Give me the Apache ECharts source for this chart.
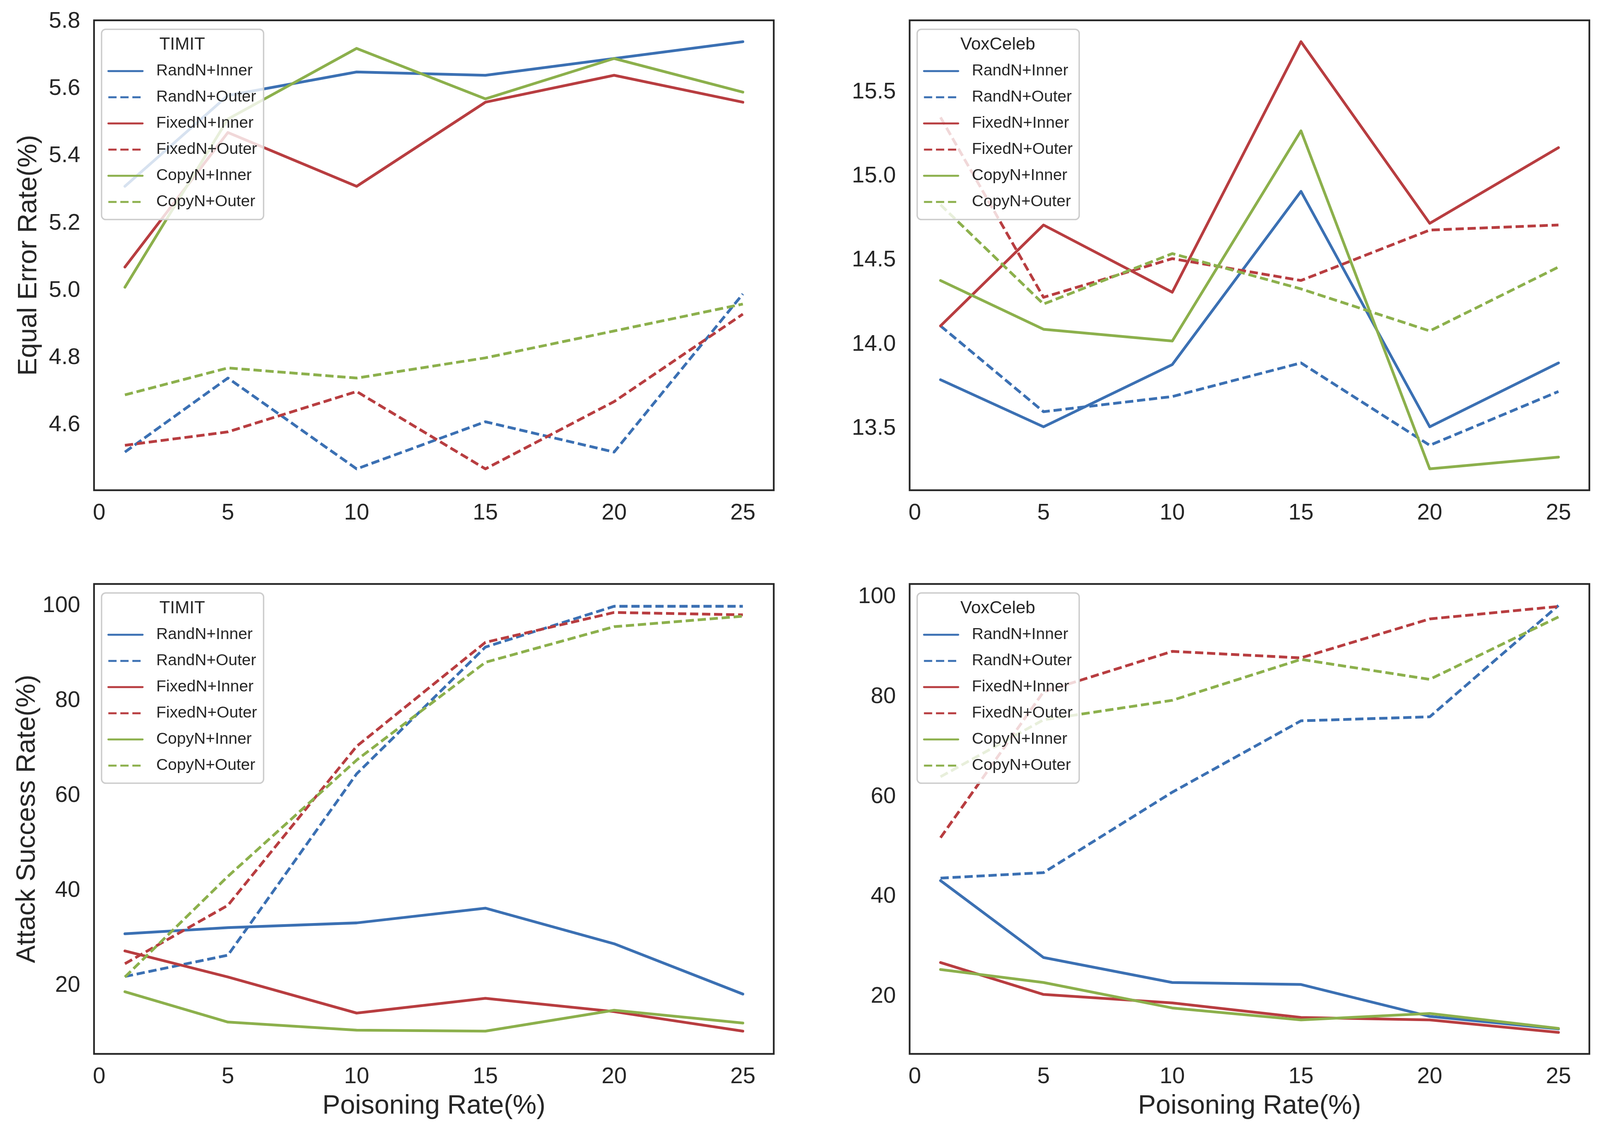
<!DOCTYPE html>
<html>
<head>
<meta charset="utf-8">
<script src="https://cdn.jsdelivr.net/npm/echarts@6/dist/echarts.min.js"></script>
<style>
html,body{margin:0;padding:0;background:#fff;overflow:hidden;}
#chart{width:100vw;height:100vh;}
</style>
</head>
<body>
<div id="chart"></div>
<script>
// ---------- data ----------
const xValues = [1, 5, 10, 15, 20, 25];
const xTicks = [0, 5, 10, 15, 20, 25];
const seriesNames = ['RandN+Inner', 'RandN+Outer', 'FixedN+Inner', 'FixedN+Outer', 'CopyN+Inner', 'CopyN+Outer'];

// TIMIT - Equal Error Rate (%)
const timitEER_RandInner  = [5.31, 5.58, 5.65, 5.64, 5.69, 5.74];
const timitEER_RandOuter  = [4.52, 4.74, 4.47, 4.61, 4.52, 4.99];
const timitEER_FixedInner = [5.07, 5.47, 5.31, 5.56, 5.64, 5.56];
const timitEER_FixedOuter = [4.54, 4.58, 4.70, 4.47, 4.67, 4.93];
const timitEER_CopyInner  = [5.01, 5.51, 5.72, 5.57, 5.69, 5.59];
const timitEER_CopyOuter  = [4.69, 4.77, 4.74, 4.80, 4.88, 4.96];

// VoxCeleb - Equal Error Rate (%)
const voxEER_RandInner  = [13.79, 13.51, 13.88, 14.91, 13.51, 13.89];
const voxEER_RandOuter  = [14.11, 13.60, 13.69, 13.89, 13.40, 13.72];
const voxEER_FixedInner = [14.11, 14.71, 14.31, 15.80, 14.72, 15.17];
const voxEER_FixedOuter = [15.35, 14.28, 14.51, 14.38, 14.68, 14.71];
const voxEER_CopyInner  = [14.38, 14.09, 14.02, 15.27, 13.26, 13.33];
const voxEER_CopyOuter  = [14.83, 14.24, 14.54, 14.33, 14.08, 14.46];

// TIMIT - Attack Success Rate (%)
const timitASR_RandInner  = [30.9, 32.2, 33.2, 36.3, 28.8, 18.2];
const timitASR_RandOuter  = [21.9, 26.4, 64.6, 91.3, 99.9, 99.9];
const timitASR_FixedInner = [27.3, 21.8, 14.2, 17.3, 14.5, 10.4];
const timitASR_FixedOuter = [24.6, 36.9, 70.4, 92.3, 98.6, 98.1];
const timitASR_CopyInner  = [18.7, 12.3, 10.6, 10.4, 14.8, 12.1];
const timitASR_CopyOuter  = [21.8, 43.0, 67.5, 88.1, 95.6, 97.8];

// VoxCeleb - Attack Success Rate (%)
const voxASR_RandInner  = [43.2, 27.8, 22.8, 22.4, 16.0, 13.5];
const voxASR_RandOuter  = [43.7, 44.8, 60.9, 75.2, 76.0, 98.3];
const voxASR_FixedInner = [26.8, 20.4, 18.7, 15.8, 15.3, 12.8];
const voxASR_FixedOuter = [51.8, 81.0, 89.1, 87.8, 95.6, 98.1];
const voxASR_CopyInner  = [25.4, 22.8, 17.7, 15.3, 16.6, 13.6];
const voxASR_CopyOuter  = [64.0, 75.4, 79.3, 87.5, 83.5, 96.0];

const timitEERTicks = [4.6, 4.8, 5.0, 5.2, 5.4, 5.6, 5.8];
const voxEERTicks = [13.5, 14.0, 14.5, 15.0, 15.5];
const asrTicks = [20, 40, 60, 80, 100];

const panels = [
  {legendTitle: 'TIMIT', data: [timitEER_RandInner, timitEER_RandOuter, timitEER_FixedInner, timitEER_FixedOuter, timitEER_CopyInner, timitEER_CopyOuter], yMin: 4.4065, yMax: 5.8035, ticks: timitEERTicks, dec: 1, yName: 'Equal Error Rate(%)', xName: ''},
  {legendTitle: 'VoxCeleb', data: [voxEER_RandInner, voxEER_RandOuter, voxEER_FixedInner, voxEER_FixedOuter, voxEER_CopyInner, voxEER_CopyOuter], yMin: 13.133, yMax: 15.927, ticks: voxEERTicks, dec: 1, yName: '', xName: ''},
  {legendTitle: 'TIMIT', data: [timitASR_RandInner, timitASR_RandOuter, timitASR_FixedInner, timitASR_FixedOuter, timitASR_CopyInner, timitASR_CopyOuter], yMin: 5.6, yMax: 104.6, ticks: asrTicks, dec: 0, yName: 'Attack Success Rate(%)', xName: 'Poisoning Rate(%)'},
  {legendTitle: 'VoxCeleb', data: [voxASR_RandInner, voxASR_RandOuter, voxASR_FixedInner, voxASR_FixedOuter, voxASR_CopyInner, voxASR_CopyOuter], yMin: 8.5, yMax: 102.6, ticks: asrTicks, dec: 0, yName: '', xName: 'Poisoning Rate(%)'}
];

// ---------- layout scaling (design size 4663 x 2921) ----------
const el = document.getElementById('chart');
const W = el.clientWidth || window.innerWidth;
const H = el.clientHeight || window.innerHeight;
const SX = W / 4663, SY = H / 2921, SF = Math.min(SX, SY);
const fx = v => v * SX, fy = v => v * SY, ff = v => v * SF;

// ---------- styles ----------
const FONT = '"Liberation Sans", Arial, sans-serif';
const TEXT = '#262626';
const colors = ['#3b70b3', '#3b70b3', '#b83d40', '#b83d40', '#8cb04c', '#8cb04c'];
const dashed = [false, true, false, true, false, true];
const gridBoxes = [
  {left: 274, top: 52, width: 1981, height: 1203},
  {left: 2651, top: 52, width: 1981, height: 1203},
  {left: 274, top: 1495, width: 1981, height: 1203},
  {left: 2651, top: 1495, width: 1981, height: 1203}
];

const grid = [], xAxis = [], yAxis = [], series = [], legend = [], graphic = [];
panels.forEach((p, i) => {
  const g = gridBoxes[i];
  grid.push({left: fx(g.left), top: fy(g.top), width: fx(g.width), height: fy(g.height), show: true, borderColor: TEXT, borderWidth: ff(5), backgroundColor: 'transparent'});
  xAxis.push({
    type: 'value', gridIndex: i, min: -0.2, max: 26.2,
    splitLine: {show: false}, axisLine: {show: false}, axisTick: {show: false},
    axisLabel: {customValues: xTicks, fontSize: ff(66), color: TEXT, fontFamily: FONT, margin: fy(30)},
    name: p.xName, nameLocation: 'middle', nameGap: fy(100),
    nameTextStyle: {fontSize: ff(78), color: TEXT, fontFamily: FONT}
  });
  yAxis.push({
    type: 'value', gridIndex: i, min: p.yMin, max: p.yMax,
    splitLine: {show: false}, axisLine: {show: false}, axisTick: {show: false},
    axisLabel: {customValues: p.ticks, fontSize: ff(66), color: TEXT, fontFamily: FONT, margin: fx(40),
      formatter: (v) => Number(v).toFixed(p.dec)},
    name: p.yName, nameLocation: 'middle', nameGap: fx(150),
    nameTextStyle: {fontSize: ff(78), color: TEXT, fontFamily: FONT}
  });
  p.data.forEach((vals, k) => {
    series.push({
      type: 'line', name: seriesNames[k], xAxisIndex: i, yAxisIndex: i,
      data: xValues.map((x, j) => [x, vals[j]]),
      symbol: 'none', showSymbol: false, animation: false, silent: true,
      lineStyle: {color: colors[k], width: ff(8), type: dashed[k] ? [ff(24), ff(11)] : 'solid', cap: dashed[k] ? 'butt' : 'round', join: 'round'},
      itemStyle: {color: colors[k]},
      z: 2
    });
  });
  const lx = g.left + 22, ly = g.top + 23;
  legend.push({
    orient: 'vertical', left: fx(lx), top: fy(ly),
    data: seriesNames, selectedMode: false,
    itemWidth: ff(100), itemHeight: ff(14), itemGap: fy(15),
    padding: [fy(81), fx(19), fy(19), fx(17)],
    backgroundColor: 'rgba(255,255,255,0.8)',
    borderColor: '#cccccc', borderWidth: ff(4), borderRadius: ff(12),
    textStyle: {fontSize: ff(47), lineHeight: fy(52), color: TEXT, fontFamily: FONT, padding: [0, 0, 0, fx(34)]},
    itemStyle: {opacity: 0, borderWidth: 0},
    lineStyle: {width: ff(5.5)}
  });
  graphic.push({
    type: 'text', x: fx(lx + 235), y: fy(ly + 40), z: 100,
    style: {text: p.legendTitle, fill: TEXT, font: ff(51) + 'px ' + FONT, textAlign: 'center', textVerticalAlign: 'middle'}
  });
});

const chart = echarts.init(el, null, {renderer: 'canvas', width: W, height: H});
chart.setOption({
  backgroundColor: '#ffffff',
  animation: false,
  textStyle: {fontFamily: FONT},
  grid, xAxis, yAxis, series, legend, graphic
});
</script>
</body>
</html>
